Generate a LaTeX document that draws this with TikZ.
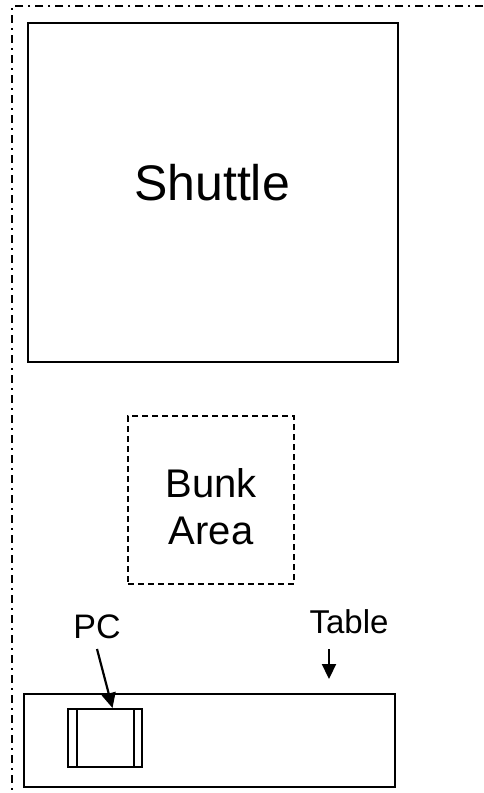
\documentclass[tikz,border=0pt]{standalone}
\usepackage{fontspec}
\setmainfont{Liberation Sans}
\usetikzlibrary{arrows.meta}
\begin{document}
\begin{tikzpicture}[x=1pt,y=-1pt,
  box/.style={draw,line width=2.2pt,inner sep=0pt,anchor=north west},
  thinbox/.style={draw,line width=1.9pt,inner sep=0pt,anchor=north west},
  lbl/.style={inner sep=0pt},
  arr/.style={line width=2.2pt,-{Triangle[length=15pt,width=14pt]}}]
\useasboundingbox (0,0) rectangle (483,793);
% outer dash-dot boundary
\coordinate (tl) at (12,6);
\coordinate (tr) at (483,6);
\coordinate (bl) at (12,793);
\draw[line width=1.8pt,dash pattern=on 8pt off 5pt on 2pt off 5pt] (tr) -- (tl) -- (bl);
% Shuttle
\node[box,minimum width=370pt,minimum height=339pt] (shuttle) at (27,22) {};
\node[font=\fontsize{50}{54}\selectfont,inner sep=0pt] (shuttletxt) at (212,183) {Shuttle};
% Bunk area
\node[box,dash pattern=on 6pt off 4pt,minimum width=166pt,minimum height=168pt] (bunk) at (127,415) {};
\node[font=\fontsize{40}{47}\selectfont,align=center,inner sep=0pt] (bunktxt) at ([yshift=-7pt]bunk.center) {Bunk\\Area};
% Table
\node[thinbox,minimum width=371pt,minimum height=93pt] (table) at (23,693) {};
% PC
\node[thinbox,minimum width=74pt,minimum height=58pt] (pc) at (67,708) {};
\draw[line width=1.9pt] ([xshift=10pt]pc.north west) -- ([xshift=10pt]pc.south west);
\draw[line width=1.9pt] ([xshift=-9pt]pc.north east) -- ([xshift=-9pt]pc.south east);
% labels
\node[lbl,font=\fontsize{34}{38}\selectfont] (pclbl) at (97,627) {PC};
\node[lbl,font=\fontsize{33}{38}\selectfont] (tablelbl) at (349,622) {Table};
\coordinate (pcarrstart) at (97,649);
\coordinate (pctip) at (112.5,708);
\draw[arr] (pcarrstart) -- (pctip);
\coordinate (tablearrstart) at (329,649);
\coordinate (tabletip) at (329,679);
\draw[arr] (tablearrstart) -- (tabletip);
\end{tikzpicture}
\end{document}
